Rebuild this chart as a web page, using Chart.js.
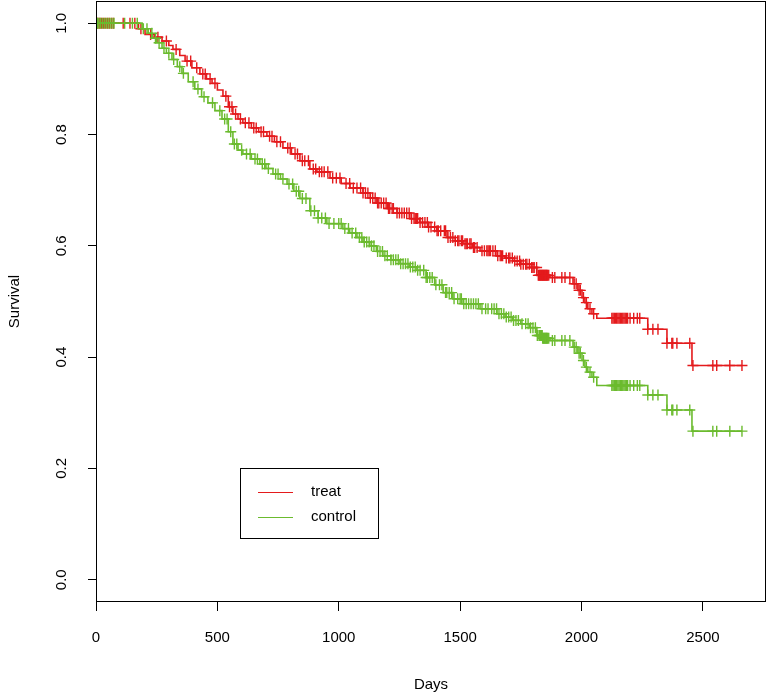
<!DOCTYPE html>
<html><head><meta charset="utf-8">
<script src="https://cdn.jsdelivr.net/npm/chart.js@4.4.0/dist/chart.umd.min.js"></script>
<style>html,body{margin:0;padding:0;background:#fff}</style>
</head><body>
<canvas id="c" width="769" height="698" style="display:block;width:769px;height:698px"></canvas>
<script>
const xTicks=[0,500,1000,1500,2000,2500];
const yTicks=[0,0.2,0.4,0.6,0.8,1.0];
const seriesNames=['treat','control'];

const treatEventDays=[175,202,240,272,300,317,345,367,395,428,455,478,500,523,545,564,585,605,640,670,704,735,770,805,840,881,910,964,1010,1046,1100,1130,1157,1200,1240,1293,1334,1370,1404,1446,1480,1512,1550,1582,1652,1685,1717,1750,1787,1816,1870,1965,1985,2002,2014,2026,2043,2063,2273,2352,2455];
const treatSurv=[0.99,0.98,0.975,0.968,0.96,0.953,0.942,0.932,0.92,0.909,0.90,0.892,0.88,0.869,0.85,0.837,0.828,0.821,0.812,0.805,0.797,0.787,0.776,0.765,0.753,0.738,0.733,0.722,0.712,0.704,0.695,0.686,0.677,0.667,0.659,0.649,0.642,0.634,0.627,0.615,0.609,0.604,0.597,0.591,0.582,0.578,0.573,0.567,0.561,0.547,0.543,0.532,0.520,0.507,0.498,0.487,0.478,0.470,0.450,0.425,0.385];
const treatCensorDays=[3,8,15,22,30,38,47,55,64,72,112,140,160,185,225,255,290,330,375,390,415,440,450,470,490,535,550,560,575,595,615,630,650,660,680,690,715,725,745,760,790,800,820,830,850,860,875,895,905,920,930,940,955,975,990,1005,1030,1045,1060,1075,1090,1100,1110,1120,1130,1140,1150,1160,1165,1175,1185,1195,1205,1210,1220,1225,1240,1250,1260,1270,1280,1290,1300,1310,1315,1320,1325,1335,1345,1355,1365,1370,1380,1395,1405,1410,1420,1435,1440,1450,1460,1470,1480,1490,1495,1505,1510,1520,1525,1530,1540,1545,1555,1560,1570,1590,1600,1610,1615,1620,1625,1635,1645,1655,1665,1670,1675,1690,1700,1705,1715,1725,1735,1745,1750,1760,1770,1775,1785,1795,1800,1805,1815,1822,1825,1828,1830,1833,1835,1838,1840,1843,1845,1848,1850,1853,1855,1858,1860,1865,1880,1890,1919,1932,1952,1970,1978,1990,1995,2008,2020,2035,2050,2125,2130,2135,2140,2145,2150,2155,2160,2165,2170,2175,2180,2185,2190,2200,2215,2230,2240,2273,2294,2315,2352,2372,2376,2393,2446,2459,2541,2557,2611,2661];

const controlEventDays=[190,215,231,250,272,290,313,335,354,380,407,435,461,490,519,545,564,585,605,640,675,700,729,760,787,815,840,881,915,951,1017,1045,1075,1100,1128,1155,1182,1215,1252,1290,1322,1360,1395,1430,1470,1512,1582,1652,1685,1717,1750,1787,1816,1840,1870,1965,1985,2002,2014,2026,2043,2063,2273,2352,2455];
const controlSurv=[0.99,0.982,0.973,0.965,0.955,0.946,0.935,0.922,0.91,0.895,0.882,0.868,0.857,0.843,0.828,0.805,0.783,0.772,0.765,0.756,0.747,0.739,0.729,0.72,0.711,0.698,0.685,0.663,0.65,0.64,0.631,0.623,0.615,0.607,0.60,0.59,0.582,0.575,0.568,0.562,0.556,0.543,0.53,0.516,0.505,0.496,0.487,0.478,0.472,0.466,0.46,0.453,0.439,0.434,0.430,0.418,0.407,0.394,0.382,0.373,0.364,0.349,0.332,0.305,0.267];
const controlCensorDays=[2,6,12,18,26,34,42,50,58,66,74,118,150,170,195,210,230,245,260,280,300,320,345,360,400,420,445,480,510,530,540,555,570,580,600,620,635,655,665,685,695,710,740,750,770,795,810,825,835,850,865,885,900,915,930,945,960,980,1000,1010,1025,1040,1055,1070,1085,1095,1105,1115,1125,1135,1145,1160,1170,1180,1190,1200,1215,1225,1235,1245,1255,1265,1275,1285,1295,1305,1315,1325,1335,1350,1360,1365,1375,1385,1400,1415,1425,1440,1445,1455,1465,1475,1490,1500,1505,1515,1525,1535,1545,1555,1565,1575,1590,1605,1615,1630,1640,1650,1660,1670,1680,1690,1700,1710,1720,1730,1740,1755,1770,1780,1790,1800,1810,1818,1825,1828,1830,1833,1835,1838,1840,1843,1845,1848,1850,1853,1855,1858,1860,1865,1880,1890,1919,1932,1952,1970,1978,1990,1995,2008,2020,2035,2050,2125,2130,2135,2140,2145,2150,2155,2160,2165,2170,2175,2180,2185,2190,2200,2215,2230,2240,2273,2294,2315,2352,2372,2376,2393,2446,2459,2541,2557,2611,2661];

const RED='#E41A1C', GREEN='#6BBB2E';
const FONT='"Liberation Sans", Arial, Helvetica, sans-serif';

function survAt(days,surv,t){let s=1;for(let i=0;i<days.length;i++){if(days[i]<=t)s=surv[i];else break;}return s;}
function stepData(days,surv,end){const d=[{x:0,y:1}];for(let i=0;i<days.length;i++)d.push({x:days[i],y:surv[i]});d.push({x:end,y:surv[surv.length-1]});return d;}
function censorData(days,surv,cens){return cens.map(t=>({x:t,y:survAt(days,surv,t)}));}

const frame={id:'frame',afterDraw(chart){
  const {ctx,chartArea:a,scales}=chart;
  ctx.save();
  ctx.strokeStyle='#000';ctx.lineWidth=1;
  ctx.strokeRect(Math.round(a.left)+0.5,Math.round(a.top)+0.5,Math.round(a.right-a.left)-1,Math.round(a.bottom-a.top)-1);
  ctx.fillStyle='#000';ctx.font='15px '+FONT;ctx.textAlign='center';ctx.textBaseline='middle';
  yTicks.forEach(v=>{const y=scales.y.getPixelForValue(v);ctx.save();ctx.translate(62,y);ctx.rotate(-Math.PI/2);ctx.fillText(v.toFixed(1),0,0);ctx.restore();});
  const lx=240,ly=468,lw=138,lh=70;
  ctx.strokeRect(lx+0.5,ly+0.5,lw,lh);
  const cols=[RED,GREEN];
  ctx.textAlign='left';
  seriesNames.forEach((n,i)=>{const yy=ly+24+i*25;ctx.strokeStyle=cols[i];ctx.lineWidth=1;ctx.beginPath();ctx.moveTo(258,yy+0.5);ctx.lineTo(293,yy+0.5);ctx.stroke();ctx.fillStyle='#000';ctx.fillText(n,311,yy);});
  ctx.restore();
}};

new Chart(document.getElementById('c'),{
  type:'line',
  data:{datasets:[
    {label:'control',data:stepData(controlEventDays,controlSurv,controlCensorDays[controlCensorDays.length-1]),borderColor:GREEN,borderWidth:1.6,stepped:true,pointRadius:0,fill:false,order:1},
    {label:'control censored',type:'scatter',data:censorData(controlEventDays,controlSurv,controlCensorDays),borderColor:GREEN,backgroundColor:GREEN,pointStyle:'cross',pointRadius:5.5,pointBorderWidth:1.4,showLine:false,order:0},
    {label:'treat',data:stepData(treatEventDays,treatSurv,treatCensorDays[treatCensorDays.length-1]),borderColor:RED,borderWidth:1.6,stepped:true,pointRadius:0,fill:false,order:3},
    {label:'treat censored',type:'scatter',data:censorData(treatEventDays,treatSurv,treatCensorDays),borderColor:RED,backgroundColor:RED,pointStyle:'cross',pointRadius:5.5,pointBorderWidth:1.4,showLine:false,order:2}
  ]},
  options:{
    responsive:false,animation:false,devicePixelRatio:1,
    layout:{autoPadding:false,padding:{top:1,right:3,left:0,bottom:0}},
    plugins:{legend:{display:false},tooltip:{enabled:false}},
    scales:{
      x:{type:'linear',min:0,max:2760,
        afterBuildTicks:s=>{s.ticks=xTicks.map(v=>({value:v}));},
        afterFit:s=>{s.height=96;},
        grid:{drawOnChartArea:false,drawTicks:true,tickLength:9,color:'#000'},
        border:{display:false},
        ticks:{color:'#000',font:{family:FONT,size:15},padding:18,maxRotation:0,autoSkip:false,callback:v=>String(v)},
        title:{display:true,text:'Days',color:'#000',font:{family:FONT,size:15},padding:{top:4,bottom:4}}
      },
      y:{type:'linear',min:-0.04,max:1.04,
        afterBuildTicks:s=>{s.ticks=yTicks.map(v=>({value:v}));},
        afterFit:s=>{s.width=96;},
        grid:{drawOnChartArea:false,drawTicks:true,tickLength:8,color:'#000'},
        border:{display:false},
        ticks:{display:false},
        title:{display:true,text:'Survival',color:'#000',font:{family:FONT,size:15},padding:{top:6,bottom:4}}
      }
    }
  },
  plugins:[frame]
});
</script>
</body></html>
